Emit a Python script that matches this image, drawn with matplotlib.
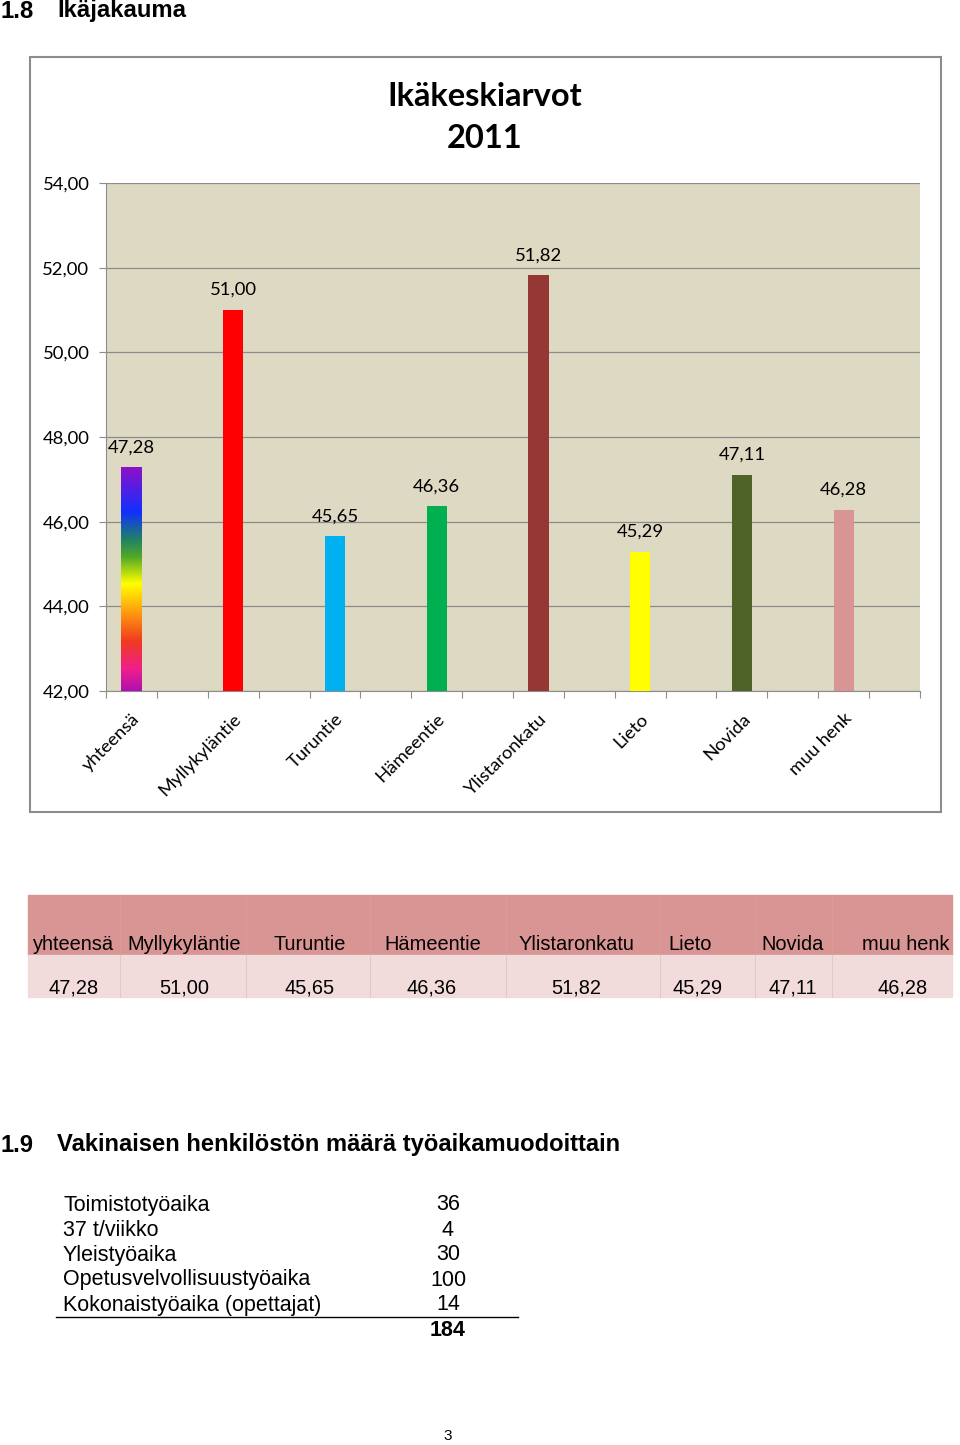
import numpy as np
import matplotlib
matplotlib.use('Agg')
import matplotlib.pyplot as plt
from matplotlib.colors import LinearSegmentedColormap
from matplotlib.patches import Rectangle
from matplotlib.lines import Line2D

# data
categories = ['yhteensä', 'Myllykyläntie', 'Turuntie', 'Hämeentie',
              'Ylistaronkatu', 'Lieto', 'Novida', 'muu henk']
values = [47.28, 51.00, 45.65, 46.36, 51.82, 45.29, 47.11, 46.28]
bar_colors = [None, '#FF0000', '#00B0F0', '#00B050', '#953735',
              '#FFFF00', '#4F6228', '#D99594']
yticks = [42, 44, 46, 48, 50, 52, 54]

work_labels = ['Toimistotyöaika', '37 t/viikko', 'Yleistyöaika',
               'Opetusvelvollisuustyöaika', 'Kokonaistyöaika (opettajat)']
work_counts = [36, 4, 30, 100, 14]

W, H = 960, 1445
CHART_FONT = ['Lato', 'DejaVu Sans']
ARIAL = ['Liberation Sans', 'DejaVu Sans']
FS = 13.3


def fx(x):
    return x / W


def fy(y):
    return 1 - y / H


def fmt(v):
    return f'{v:.2f}'.replace('.', ',')


fig = plt.figure(figsize=(9.6, 14.45), dpi=100)
fig.patch.set_facecolor('white')

# headings
fig.text(fx(0), fy(11), '1.8', fontsize=17.2, fontweight='bold', family=ARIAL, va='center')
fig.text(fx(57), fy(11), 'Ikäjakauma', fontsize=17.2, fontweight='bold', family=ARIAL, va='center')

# chart frame
fig.patches.append(Rectangle((fx(30), fy(812)), fx(941) - fx(30), fy(57) - fy(812),
                             transform=fig.transFigure, fill=False,
                             edgecolor='#8C8C8C', linewidth=1.5, zorder=0))
fig.text(fx(485), fy(96), 'Ikäkeskiarvot', fontsize=23.5, fontweight='bold',
         family=CHART_FONT, ha='center', va='center')
fig.text(fx(485), fy(138), '2011', fontsize=23.5, fontweight='bold',
         family=CHART_FONT, ha='center', va='center')

ax = fig.add_axes([fx(106), fy(691), fx(920) - fx(106), fy(183) - fy(691)])
ax.set_facecolor('#DDD9C3')
# bars sit in the left half of each category slot (empty second series)
x = np.arange(len(categories)) - 0.25
bars = ax.bar(x, values, width=0.2, color=[c if c else 'none' for c in bar_colors], zorder=3)

# rainbow bar
rainbow = LinearSegmentedColormap.from_list('rb', [
    (0.0, '#B010B0'), (0.1, '#F0208A'), (0.22, '#F03A20'), (0.35, '#FF9A10'),
    (0.48, '#FFFF00'), (0.6, '#50A828'), (0.68, '#208068'), (0.8, '#1030FF'),
    (1.0, '#8E10C8')])
b0 = bars[0]
grad = np.linspace(0, 1, 256).reshape(-1, 1)
ax.imshow(grad, cmap=rainbow, origin='lower', aspect='auto', zorder=3,
          extent=[b0.get_x(), b0.get_x() + b0.get_width(), 42, values[0]])
ax.set_xlim(-0.5, len(categories) - 0.5)
ax.set_ylim(42, 54)

ax.set_yticks(yticks)
ax.set_yticklabels([fmt(v) for v in yticks], family=CHART_FONT, fontsize=FS)
ax.yaxis.grid(True, color='#8C8C8C', linewidth=0.9, zorder=0)
ax.set_axisbelow(True)
ax.set_xticks(np.arange(-0.5, len(categories) - 0.49, 0.5))
ax.set_xticklabels([])
ax.set_xticks(x, minor=True)
ax.set_xticklabels(categories, minor=True, rotation=45, ha='right', va='top',
                   rotation_mode='anchor', family=CHART_FONT, fontsize=FS)
ax.tick_params(axis='x', which='minor', length=0, pad=14)
ax.tick_params(axis='x', which='major', length=5, color='#8C8C8C')
ax.tick_params(axis='y', length=5, color='#8C8C8C', pad=7)
for s in ['top', 'right']:
    ax.spines[s].set_visible(False)
for s in ['left', 'bottom']:
    ax.spines[s].set_color('#8C8C8C')

for xi, v in zip(x, values):
    ax.annotate(fmt(v), (xi, v), xytext=(0, 20), textcoords='offset pixels',
                ha='center', va='center', family=CHART_FONT, fontsize=FS)

# data table
col_edges = [28, 120, 246, 370, 506, 660, 755, 832, 952]
head_cx = [74, 184, 310, 433, 576, 690, 793, 906]
val_cx = [74, 184, 310, 432, 576, 698, 793, 903]
fig.patches.append(Rectangle((fx(28), fy(955)), fx(952) - fx(28), fy(895) - fy(955),
                             transform=fig.transFigure, color='#D99594', zorder=0))
fig.patches.append(Rectangle((fx(28), fy(997)), fx(952) - fx(28), fy(955) - fy(997),
                             transform=fig.transFigure, color='#F2DCDB', zorder=0))
for e in col_edges[1:-1]:
    fig.lines.append(Line2D([fx(e), fx(e)], [fy(997), fy(895)], transform=fig.transFigure,
                            color='#DCA3A2', linewidth=0.5, alpha=0.6))
for name, cx in zip(categories, head_cx):
    fig.text(fx(cx), fy(944), name, fontsize=14.4, family=ARIAL, ha='center', va='center')
for v, cx in zip(values, val_cx):
    fig.text(fx(cx), fy(988), fmt(v), fontsize=14.4, family=ARIAL, ha='center', va='center')

# section 1.9
fig.text(fx(0), fy(1145), '1.9', fontsize=17.1, fontweight='bold', family=ARIAL, va='center')
fig.text(fx(57), fy(1145), 'Vakinaisen henkilöstön määrä työaikamuodoittain', fontsize=17.1,
         fontweight='bold', family=ARIAL, va='center')
row_y = [1205, 1230, 1255, 1280, 1305]
for lab, n, yy in zip(work_labels, work_counts, row_y):
    fig.text(fx(63), fy(yy), lab, fontsize=15.5, family=ARIAL, va='center')
    fig.text(fx(448), fy(yy), str(n), fontsize=15.5, family=ARIAL, va='center', ha='center')
fig.lines.append(Line2D([fx(56), fx(518)], [fy(1317), fy(1317)], transform=fig.transFigure,
                        color='black', linewidth=1))
fig.text(fx(448), fy(1331), str(sum(work_counts)), fontsize=15.5, fontweight='bold',
         family=ARIAL, va='center', ha='center')

fig.text(fx(448), fy(1436), '3', fontsize=11, family=ARIAL, va='center', ha='center')

fig.savefig('out.png', dpi=100)
